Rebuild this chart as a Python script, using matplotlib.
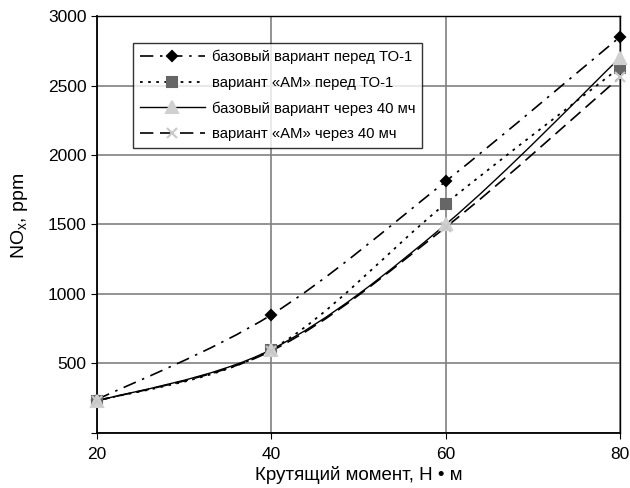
import numpy as np
import matplotlib.pyplot as plt
from matplotlib.path import Path
from matplotlib.patches import PathPatch
from matplotlib.lines import Line2D

plt.rcParams['font.family'] = ['Liberation Sans', 'DejaVu Sans']

torque = [20, 40, 60, 80]
base_before = [240, 850, 1810, 2850]
am_before = [230, 600, 1650, 2630]
base_after = [230, 600, 1500, 2700]
am_after = [230, 590, 1480, 2560]

labels = ["базовый вариант перед ТО-1",
          "вариант «АМ» перед ТО-1",
          "базовый вариант через 40 мч",
          "вариант «АМ» через 40 мч"]


def smooth_path(x, y):
    # Catmull-Rom style bezier through the points (like Excel smoothed lines)
    x = np.asarray(x, float)
    y = np.asarray(y, float)
    verts = [(x[0], y[0])]
    codes = [Path.MOVETO]
    n = len(x)
    for i in range(n - 1):
        p0 = (x[max(i - 1, 0)], y[max(i - 1, 0)])
        p1 = (x[i], y[i])
        p2 = (x[i + 1], y[i + 1])
        p3 = (x[min(i + 2, n - 1)], y[min(i + 2, n - 1)])
        c1 = (p1[0] + (p2[0] - p0[0]) / 6, p1[1] + (p2[1] - p0[1]) / 6)
        c2 = (p2[0] - (p3[0] - p1[0]) / 6, p2[1] - (p3[1] - p1[1]) / 6)
        verts += [c1, c2, p2]
        codes += [Path.CURVE4] * 3
    return Path(verts, codes)


fig = plt.figure(figsize=(6.3, 4.88), dpi=100)
ax = fig.add_axes([0.154, 0.113, 0.83, 0.854])

styles = [
    dict(ls=(0, (8, 4, 1.5, 4)), lw=1.2, marker="D", mfc="black", mec="black", ms=5),
    dict(ls=(0, (1.5, 3)), lw=1.3, marker="s", mfc="#666666", mec="#666666", ms=7),
    dict(ls="-", lw=1.0, marker="^", mfc="#d0d0d0", mec="#d0d0d0", ms=8),
    dict(ls=(0, (8, 4)), lw=1.2, marker="x", mfc="#c8c8c8", mec="#c8c8c8", ms=7),
]
series = [base_before, am_before, base_after, am_after]

handles = []
for vals, st, lab in zip(series, styles, labels):
    patch = PathPatch(smooth_path(torque, vals), fill=False, edgecolor="black",
                      lw=st["lw"], ls=st["ls"], zorder=3)
    ax.add_patch(patch)
    ax.plot(torque, vals, ls="none", marker=st["marker"], mfc=st["mfc"],
            mec=st["mec"], ms=st["ms"], mew=1.5, zorder=4, clip_on=False)
    handles.append(Line2D([], [], color="black", lw=st["lw"], ls=st["ls"],
                          marker=st["marker"], mfc=st["mfc"], mec=st["mec"],
                          ms=st["ms"], mew=1.5))

ax.set_xlim(20, 80)
ax.set_ylim(0, 3000)
ax.set_xticks(torque)
ax.set_yticks([0, 500, 1000, 1500, 2000, 2500, 3000])
ax.set_yticklabels(["", "500", "1000", "1500", "2000", "2500", "3000"])
ax.grid(True, color="#808080", lw=1.2)
ax.set_axisbelow(True)
ax.tick_params(labelsize=12.5, length=4, color="black")
ax.tick_params(axis="x", pad=6)
for s in ax.spines.values():
    s.set_color("black")
    s.set_linewidth(1.0)
ax.spines["left"].set_linewidth(1.3)
ax.spines["bottom"].set_linewidth(1.3)

ax.set_xlabel("Крутящий момент, Н \u2022 м", fontsize=13.5, labelpad=3)
ax.set_ylabel("NO$_\\mathregular{x}$, ppm", fontsize=14)
ax.yaxis.set_label_coords(-0.128, 0.52)

leg = ax.legend(handles, labels, loc="upper left", bbox_to_anchor=(0.069, 0.935),
                fontsize=10.7, frameon=True, fancybox=False, edgecolor="black",
                handlelength=4.4, handletextpad=0.45, labelspacing=0.77,
                borderpad=0.45, borderaxespad=0)
leg.get_frame().set_linewidth(1.0)

fig.savefig("out.png", dpi=100)
